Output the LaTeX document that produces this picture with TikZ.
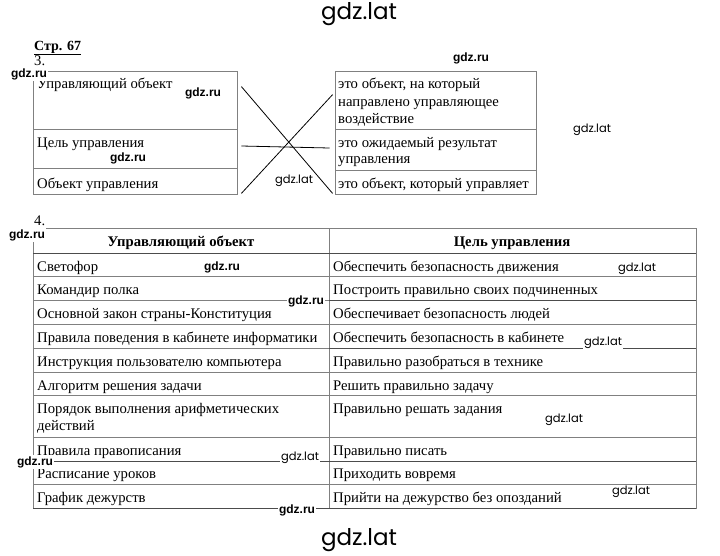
\documentclass[tikz,border=0pt]{standalone}
\usepackage{fontspec}
\setmainfont{Liberation Serif}
\newfontfamily\rufont{Liberation Sans}
\newfontfamily\latfont{Poppins}
\usetikzlibrary{calc}
\tikzset{>=latex}
\tikzset{
  cell/.style={draw=gray,line width=0.8pt,inner sep=0pt},
  txt/.style={anchor=base west,inner sep=0pt,font=\fontsize{14.7}{17}\selectfont},
  head/.style={anchor=base,inner sep=0pt,font=\fontsize{14.7}{17}\selectfont\bfseries},
  grid/.style={draw=gray,line width=0.8pt},
  dark/.style={draw=black!70,line width=0.9pt},
  wmru/.style={fill=white,inner sep=1pt,font=\rufont\bfseries\fontsize{12}{12}\selectfont},
  wmlat/.style={fill=white,inner sep=1pt,font=\latfont\fontsize{11.5}{12}\selectfont},
  wmbig/.style={inner sep=0pt,font=\latfont\fontsize{23}{24}\selectfont}
}
\begin{document}
\begin{tikzpicture}[x=1pt,y=-1pt]
\useasboundingbox (0,0) rectangle (720,555);
\node[wmbig] (T) at (359,14) {gdz.lat};
\node[txt,font=\fontsize{14}{17}\selectfont\bfseries] (P) at (34,50) {\underline{Стр. 67}};
\node[txt] (N3) at (34,65) {3.};
% task 3
\node[cell,minimum width=204pt,minimum height=58pt] (L1) at (135,100) {};
\node[cell,minimum width=204pt,minimum height=39pt] (L2) at (135,148.5) {};
\node[cell,minimum width=204pt,minimum height=26pt] (L3) at (135,181) {};
\node[cell,minimum width=201pt,minimum height=58pt] (R1) at (435.5,100) {};
\node[cell,minimum width=201pt,minimum height=41pt] (R2) at (435.5,149.5) {};
\node[cell,minimum width=201pt,minimum height=24pt] (R3) at (435.5,182) {};
\node[txt] (L1t) at (37,88) {Управляющий объект};
\node[txt] (L2t) at (37,147) {Цель управления};
\node[txt] (L3t) at (37,188) {Объект управления};
\node[txt] (R1a) at (338,88) {это объект, на который};
\node[txt] (R1b) at (338,106) {направлено управляющее};
\node[txt] (R1c) at (338,123) {воздействие};
\node[txt] (R2a) at (338,147) {это ожидаемый результат};
\node[txt] (R2b) at (338,163) {управления};
\node[txt] (R3t) at (338,188) {это объект, который управляет};
\draw[line width=0.8pt] ($(L1.north east)+(4,16)$) -- ($(R3.south west)+(-2,-1)$);
\draw[line width=0.8pt] ($(L3.south east)+(4,-1)$) -- ($(R1.north west)+(-2,24)$);
\draw[line width=0.8pt] ($(L2.east)+(4,-2.5)$) -- ($(R2.west)+(-5,-1.5)$);
% task 4
\node[txt] (N4) at (34,225) {4.};
\draw[grid] (33,228) rectangle (696,508);
\draw[grid] (329,228) -- (329,508);
\draw[grid] (33,276) -- (696,276);
\draw[grid] (33,300) -- (329,300);
\draw[grid] (33,324) -- (696,324);
\draw[grid] (33,348) -- (329,348);
\draw[grid] (33,372) -- (696,372);
\draw[grid] (33,395) -- (696,395);
\draw[grid] (33,437) -- (696,437);
\draw[grid] (33,484) -- (696,484);
\draw[dark] (33,253) -- (696,253);
\draw[dark] (329,300) -- (696,300);
\draw[dark] (329,348) -- (696,348);
\draw[dark] (33,461) -- (696,461);
\draw[dark] (33,508) -- (696,508);
\node[head] (H1) at (181,246) {Управляющий объект};
\node[head] (H2) at (512,246) {Цель управления};
\node[txt] (A1) at (37,271) {Светофор};
\node[txt] (A2) at (37,294) {Командир полка};
\node[txt] (A3) at (37,318) {Основной закон страны-Конституция};
\node[txt] (A4) at (37,342) {Правила поведения в кабинете информатики};
\node[txt] (A5) at (37,366) {Инструкция пользователю компьютера};
\node[txt] (A6) at (37,390) {Алгоритм решения задачи};
\node[txt] (A7) at (37,413) {Порядок выполнения арифметических};
\node[txt] (A7b) at (37,430) {действий};
\node[txt] (A8) at (37,455) {Правила правописания};
\node[txt] (A9) at (37,478) {Расписание уроков};
\node[txt] (A10) at (37,502) {График дежурств};
\node[txt] (B1) at (333,271) {Обеспечить безопасность движения};
\node[txt] (B2) at (333,294) {Построить правильно своих подчиненных};
\node[txt] (B3) at (333,318) {Обеспечивает безопасность людей};
\node[txt] (B4) at (333,342) {Обеспечить безопасность в кабинете};
\node[txt] (B5) at (333,366) {Правильно разобраться в технике};
\node[txt] (B6) at (333,390) {Решить правильно задачу};
\node[txt] (B7) at (333,413) {Правильно решать задания};
\node[txt] (B8) at (333,455) {Правильно писать};
\node[txt] (B9) at (333,478) {Приходить вовремя};
\node[txt] (B10) at (333,502) {Прийти на дежурство без опозданий};
% watermarks
\node[wmru] (W1) at (29,74) {gdz.ru};
\node[wmru] (W2) at (203,93) {gdz.ru};
\node[wmru] (W3) at (128,158) {gdz.ru};
\node[wmru] (W4) at (471,58) {gdz.ru};
\node[wmru] (W5) at (27,235) {gdz.ru};
\node[wmru] (W6) at (222,267) {gdz.ru};
\node[wmru] (W7) at (306,301) {gdz.ru};
\node[wmru] (W8) at (35,462) {gdz.ru};
\node[wmru] (W9) at (297,510) {gdz.ru};
\node[wmlat] (V1) at (294,181) {gdz.lat};
\node[wmlat] (V2) at (592,130) {gdz.lat};
\node[wmlat] (V3) at (637,269) {gdz.lat};
\node[wmlat] (V4) at (603,343) {gdz.lat};
\node[wmlat] (V5) at (300,458) {gdz.lat};
\node[wmlat] (V6) at (564,420) {gdz.lat};
\node[wmlat] (V7) at (631,492) {gdz.lat};
\node[wmbig] (Bt) at (359,540) {gdz.lat};
\end{tikzpicture}
\end{document}
